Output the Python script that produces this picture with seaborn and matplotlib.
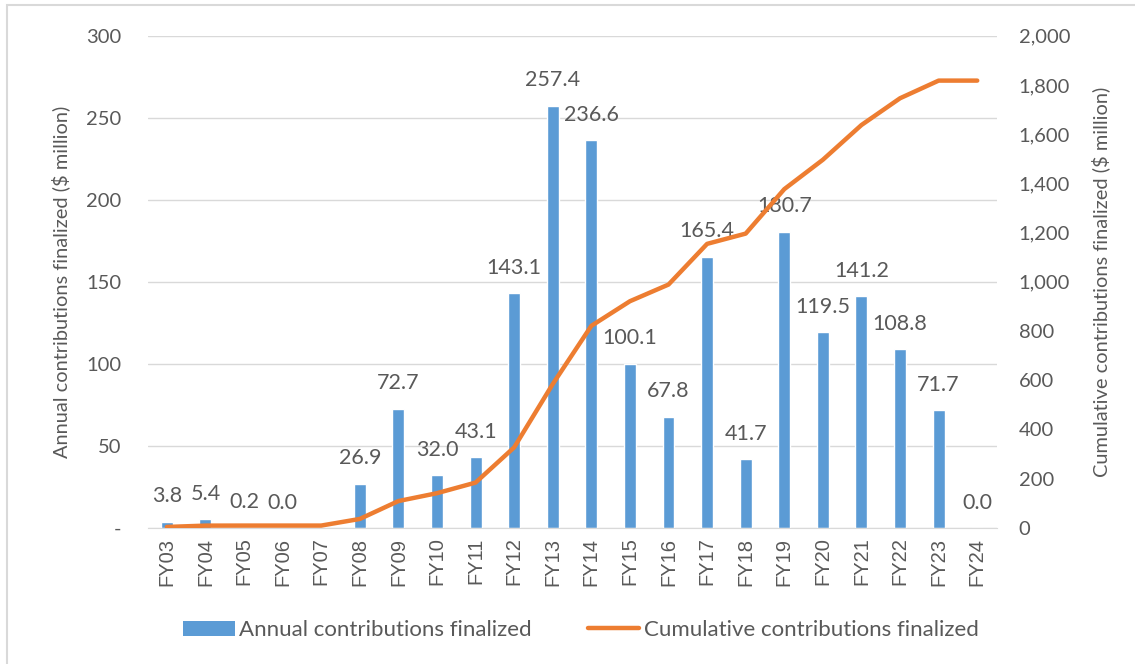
import numpy as np
import pandas as pd
import matplotlib
matplotlib.use('Agg')
import matplotlib.pyplot as plt
import matplotlib.ticker as mticker
from matplotlib.patches import Patch, Rectangle
from matplotlib.lines import Line2D
import seaborn as sns

# Data
years = ['FY03', 'FY04', 'FY05', 'FY06', 'FY07', 'FY08', 'FY09', 'FY10', 'FY11', 'FY12', 'FY13',
         'FY14', 'FY15', 'FY16', 'FY17', 'FY18', 'FY19', 'FY20', 'FY21', 'FY22', 'FY23', 'FY24']
annual = [3.8, 5.4, 0.2, 0.0, 0.0, 26.9, 72.7, 32.0, 43.1, 143.1, 257.4,
          236.6, 100.1, 67.8, 165.4, 41.7, 180.7, 119.5, 141.2, 108.8, 71.7, 0.0]
bar_labels = ['3.8', '5.4', '0.2', '0.0', '', '26.9', '72.7', '32.0', '43.1', '143.1', '257.4',
              '236.6', '100.1', '67.8', '165.4', '41.7', '180.7', '119.5', '141.2', '108.8', '71.7', '0.0']
cumulative = [3.8, 9.2, 9.4, 9.4, 9.4, 36.3, 109.0, 141.0, 184.1, 327.2, 584.6,
              821.2, 921.3, 989.1, 1154.5, 1196.2, 1376.9, 1496.4, 1637.6, 1746.4, 1818.1, 1818.1]

df = pd.DataFrame({'FY': years, 'Annual': annual, 'Cumulative': cumulative})

bar_col = '#5B9BD5'
line_col = '#ED7D31'
txt_col = '#595959'
grid_col = '#D9D9D9'

sns.set_style('white')
plt.rcParams['font.family'] = ['Lato', 'DejaVu Sans']

fig = plt.figure(figsize=(11.35, 6.64), dpi=100)
ax = fig.add_axes([0.130, 0.205, 0.748, 0.741])

sns.barplot(data=df, x='FY', y='Annual', color=bar_col, width=0.31, ax=ax, saturation=1)
ax.set_ylim(0, 300)
ax.set_yticks([0, 50, 100, 150, 200, 250, 300])
ax.yaxis.set_major_formatter(mticker.FuncFormatter(lambda v, p: '-' if v == 0 else '%d' % v))
ax.grid(axis='y', color=grid_col, lw=1)
ax.set_axisbelow(True)
for s in ['top', 'right', 'left']:
    ax.spines[s].set_visible(False)
ax.spines['bottom'].set_color(grid_col)
ax.tick_params(axis='both', length=0, colors=txt_col)
ax.tick_params(axis='y', labelsize=14.5, pad=19)
ax.tick_params(axis='x', pad=7)
ax.set_xlim(-0.5, len(years) - 0.5)
ax.set_xlabel('')
ax.set_ylabel('Annual contributions finalized ($ million)', fontsize=14.4, color=txt_col, labelpad=11)
for lab in ax.get_xticklabels():
    lab.set_rotation(90)
    lab.set_fontsize(14.5)
    lab.set_family(['Liberation Sans', 'DejaVu Sans'])
    lab.set_color(txt_col)

ax.bar_label(ax.containers[0], labels=bar_labels, padding=11, fontsize=15.5, color=txt_col)

ax2 = ax.twinx()
sns.lineplot(data=df, x='FY', y='Cumulative', color=line_col, lw=3.2, ax=ax2, sort=False)
ax2.set_ylim(0, 2000)
ax2.set_yticks(range(0, 2001, 200))
ax2.yaxis.set_major_formatter(mticker.FuncFormatter(lambda v, p: '{:,.0f}'.format(v)))
for s in ax2.spines.values():
    s.set_visible(False)
ax2.tick_params(axis='y', length=0, colors=txt_col, labelsize=14.5, pad=16)
ax2.set_ylabel('Cumulative contributions finalized ($ million)', fontsize=14.4, color=txt_col, labelpad=15)
ax2.set_xlabel('')

handles = [Patch(facecolor=bar_col, edgecolor='none'),
           Line2D([0], [0], color=line_col, lw=3.2)]
fig.legend(handles, ['Annual contributions finalized', 'Cumulative contributions finalized'],
           loc='center', bbox_to_anchor=(0.512, 0.051), ncol=2, frameon=False,
           fontsize=16, labelcolor=txt_col, handlelength=2.3, handletextpad=0.2,
           columnspacing=2.55)

fig.patches.append(Rectangle((0.006, -0.01), 1.2, 1.003, transform=fig.transFigure,
                             fill=False, edgecolor=grid_col, lw=1.5))

fig.savefig('out.png', dpi=100)
